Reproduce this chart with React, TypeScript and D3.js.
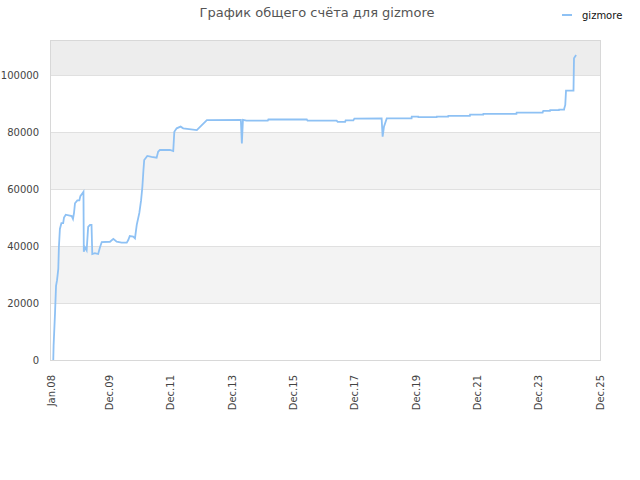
import { useEffect, useRef } from "react";
import * as d3 from "d3";

// Score history for gizmore
const dates = [
  "2008-01-28", "2008-02-01", "2008-02-18", "2008-03-01", "2008-03-13", "2008-03-28",
  "2008-04-04", "2008-04-16", "2008-05-04", "2008-05-25", "2008-06-04", "2008-06-25",
  "2008-09-04", "2008-09-19", "2008-10-01", "2008-10-13", "2008-11-10", "2008-12-04",
  "2008-12-16", "2009-01-10", "2009-01-22", "2009-01-26", "2009-02-10", "2009-03-01",
  "2009-03-19", "2009-04-10", "2009-04-28", "2009-05-07", "2009-06-07", "2009-07-16",
  "2009-08-07", "2009-08-28", "2009-12-04", "2010-01-13", "2010-02-22", "2010-04-22",
  "2010-06-22", "2010-07-10", "2010-07-28", "2010-09-07", "2010-09-28", "2010-10-19",
  "2010-11-19", "2010-12-10", "2010-12-25", "2011-01-07", "2011-01-16", "2011-02-22",
  "2011-04-13", "2011-06-13", "2011-07-01", "2011-07-22", "2011-11-19", "2011-12-28",
  "2012-01-10", "2012-02-07", "2012-03-25", "2012-04-25", "2012-10-04", "2013-02-01",
  "2014-03-13", "2014-03-25", "2014-04-07", "2014-05-19", "2015-01-28", "2015-02-04",
  "2016-05-07", "2016-05-16", "2017-04-28", "2017-05-10", "2017-08-07", "2017-08-13",
  "2017-11-13", "2017-11-25", "2018-10-16", "2018-10-28", "2018-11-13", "2018-12-16",
  "2019-10-08", "2019-10-10", "2019-12-26", "2019-12-28", "2020-08-02", "2020-08-04",
  "2020-12-17", "2020-12-19", "2021-09-02", "2021-09-04", "2022-02-08", "2022-02-10",
  "2023-03-11", "2023-03-13", "2024-01-17", "2024-01-19", "2024-01-25", "2024-04-14",
  "2024-04-16", "2024-07-30", "2024-08-01", "2024-09-29", "2024-10-01", "2024-10-13",
  "2024-10-22", "2025-01-19", "2025-01-25", "2025-02-19",
];

const scores = [
  0, 5000, 16500, 26000, 28000, 32000,
  39500, 46000, 48000, 48000, 50000, 51000,
  50500, 49500, 51500, 55000, 56000, 56000,
  57500, 58500, 59000, 38000, 39500, 38500,
  46700, 47400, 47400, 37200, 37500, 37200,
  39600, 41400, 41500, 42500, 41500, 41200,
  41200, 42100, 43500, 43300, 42700, 47400,
  51600, 56100, 60700, 66700, 70200, 71600,
  71300, 71000, 73100, 73700, 73700, 73300,
  80100, 81300, 81900, 81300, 80700, 84200,
  84300, 76000, 84300, 84000, 84000, 84400,
  84400, 84000, 84000, 83600, 83600, 84100,
  84100, 84700, 84800, 78400, 81900, 84800,
  84800, 85400, 85400, 85200, 85200, 85400,
  85400, 85700, 85700, 86100, 86100, 86400,
  86400, 86800, 86800, 87000, 87400, 87400,
  87700, 87700, 87900, 87900, 88300, 89500,
  94500, 94500, 105900, 107000,
];

const xTickDates = [
  "2008-01-01", "2009-12-01", "2011-12-01", "2013-12-01", "2015-12-01",
  "2017-12-01", "2019-12-01", "2021-12-01", "2023-12-01", "2025-12-01",
];
const xTickLabels = [
  "Jan.08", "Dec.09", "Dec.11", "Dec.13", "Dec.15",
  "Dec.17", "Dec.19", "Dec.21", "Dec.23", "Dec.25",
];
const yTicks = [0, 20000, 40000, 60000, 80000, 100000];

const title = "График общего счёта для gizmore";
const seriesName = "gizmore";

export default function App() {
  const svgRef = useRef<SVGSVGElement | null>(null);

  useEffect(() => {
    if (!svgRef.current) return;
    const svg = d3.select(svgRef.current);
    svg.selectAll("*").remove();

    const left = 50, right = 600, top = 40, bottom = 360;
    const font = "'DejaVu Sans', sans-serif";
    const parse = d3.utcParse("%Y-%m-%d");

    const x = d3.scaleUtc()
      .domain([parse("2008-01-01")!, parse("2025-12-01")!])
      .range([left + 1, right]);
    const y = d3.scaleLinear().domain([0, 112300]).range([bottom, top]);

    // background bands
    const bandEdges = [...yTicks, 112300];
    const bands = bandEdges.slice(0, -1).map((v, i) => [v, bandEdges[i + 1], i]);
    svg.append("g")
      .selectAll("rect")
      .data(bands)
      .join("rect")
      .attr("x", left)
      .attr("width", right - left)
      .attr("y", (d) => y(d[1]))
      .attr("height", (d) => y(d[0]) - y(d[1]))
      .attr("fill", (d) => (d[2] === 5 ? "#ededed" : d[2] % 2 === 1 ? "#f3f3f3" : "#ffffff"));

    // grid lines
    svg.append("g")
      .selectAll("line")
      .data(yTicks.slice(1))
      .join("line")
      .attr("x1", left)
      .attr("x2", right)
      .attr("y1", (d) => Math.round(y(d)) + 0.5)
      .attr("y2", (d) => Math.round(y(d)) + 0.5)
      .attr("stroke", "#e0e0e0");

    // frame
    svg.append("rect")
      .attr("x", left + 0.5)
      .attr("y", top + 0.5)
      .attr("width", right - left)
      .attr("height", bottom - top)
      .attr("fill", "none")
      .attr("stroke", "#d8d8d8");

    // y labels
    svg.append("g")
      .selectAll("text")
      .data(yTicks)
      .join("text")
      .attr("x", 39)
      .attr("y", (d) => y(d))
      .attr("dy", "0.35em")
      .attr("text-anchor", "end")
      .attr("font-family", font)
      .attr("font-size", 10)
      .attr("fill", "#444")
      .text((d) => String(d));

    // x labels
    svg.append("g")
      .selectAll("text")
      .data(xTickDates)
      .join("text")
      .attr("transform", (d) => `translate(${x(parse(d)!)},375) rotate(-90)`)
      .attr("dy", "0.35em")
      .attr("text-anchor", "end")
      .attr("font-family", font)
      .attr("font-size", 10)
      .attr("fill", "#444")
      .text((_, i) => xTickLabels[i]);

    // line
    const points = dates.map((d, i) => [x(parse(d)!), y(scores[i])] as [number, number]);
    svg.append("path")
      .datum(points)
      .attr("fill", "none")
      .attr("stroke", "#8ec1f4")
      .attr("stroke-width", 1.8)
      .attr("d", d3.line());

    // title
    svg.append("text")
      .attr("x", 317)
      .attr("y", 17)
      .attr("text-anchor", "middle")
      .attr("font-family", font)
      .attr("font-size", 13)
      .attr("fill", "#555")
      .text(title);

    // legend
    svg.append("line")
      .attr("x1", 562)
      .attr("x2", 572)
      .attr("y1", 15)
      .attr("y2", 15)
      .attr("stroke", "#8ec1f4")
      .attr("stroke-width", 2);
    svg.append("text")
      .attr("x", 582)
      .attr("y", 15)
      .attr("dy", "0.35em")
      .attr("font-family", font)
      .attr("font-size", 10)
      .attr("fill", "#111")
      .text(seriesName);
  }, []);

  return (
    <svg
      ref={svgRef}
      width={640}
      height={480}
      style={{ position: "absolute", left: 0, top: 0, background: "#fff" }}
    />
  );
}
